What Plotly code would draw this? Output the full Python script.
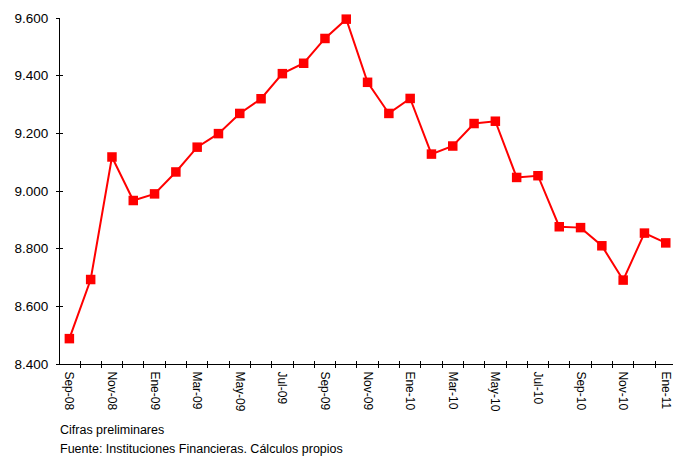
import plotly.graph_objects as go

months = ["Sep-08", "Oct-08", "Nov-08", "Dic-08", "Ene-09", "Feb-09", "Mar-09", "Abr-09",
          "May-09", "Jun-09", "Jul-09", "Ago-09", "Sep-09", "Oct-09", "Nov-09", "Dic-09",
          "Ene-10", "Feb-10", "Mar-10", "Abr-10", "May-10", "Jun-10", "Jul-10", "Ago-10",
          "Sep-10", "Oct-10", "Nov-10", "Dic-10", "Ene-11"]
values = [8488, 8693, 9118, 8967, 8990, 9066, 9152, 9199,
          9269, 9320, 9407, 9443, 9529, 9596, 9377, 9269,
          9321, 9128, 9156, 9234, 9242, 9047, 9053, 8876,
          8873, 8810, 8691, 8854, 8820]
tick_labels = ["Sep-08", "Nov-08", "Ene-09", "Mar-09", "May-09", "Jul-09", "Sep-09", "Nov-09",
               "Ene-10", "Mar-10", "May-10", "Jul-10", "Sep-10", "Nov-10", "Ene-11"]
y_ticks = [8400, 8600, 8800, 9000, 9200, 9400, 9600]
notes = ["Cifras preliminares", "Fuente: Instituciones Financieras. Cálculos propios"]

xs = list(range(len(months)))
label_pos = [months.index(m) for m in tick_labels]
xr = [-0.44, 28.34]
yr = [8400, 9600]
font = "Liberation Sans, Arial, sans-serif"

fig = go.Figure()
fig.add_trace(go.Scatter(
    x=xs, y=values, mode="lines+markers",
    line=dict(color="#FF0000", width=2),
    marker=dict(symbol="square", size=9.5, color="#FF0000"),
    cliponaxis=False, showlegend=False, hoverinfo="skip"))
# invisible trace to anchor secondary axes (used for crossing ticks)
fig.add_trace(go.Scatter(x=[xs[0]], y=[values[0]], xaxis="x2", yaxis="y2",
                         mode="markers", marker=dict(opacity=0), showlegend=False,
                         hoverinfo="skip"))

fig.update_layout(
    width=673, height=457,
    margin=dict(l=60, r=0, t=18, b=93, autoexpand=False),
    paper_bgcolor="white", plot_bgcolor="white",
    separators=",.",
    font=dict(family=font, size=13, color="black"),
    xaxis=dict(range=xr, tickmode="array", tickvals=label_pos, ticktext=tick_labels,
               tickangle=90, ticks="", showgrid=False, zeroline=False, automargin=False,
               showline=True, linecolor="black", linewidth=1, ticklabeloverflow="allow",
               tickfont=dict(size=12), ticklabelstandoff=4,
               minor=dict(tickmode="linear", tick0=-0.5, dtick=1, ticks="outside",
                          ticklen=3, tickcolor="black", tickwidth=1, showgrid=False)),
    yaxis=dict(range=yr, tickmode="array", tickvals=y_ticks, tickformat=",d",
               ticks="outside", ticklen=3, tickcolor="black", tickwidth=1, automargin=False,
               showgrid=False, zeroline=False, showline=True, linecolor="black",
               linewidth=1, tickfont=dict(size=13.5), ticklabelstandoff=5),
    xaxis2=dict(range=xr, overlaying="x", anchor="y2", showticklabels=False,
                tickmode="linear", tick0=-0.5, dtick=1, ticks="inside", ticklen=3,
                automargin=False,
                tickcolor="black", showgrid=False, zeroline=False, showline=False),
    yaxis2=dict(range=yr, overlaying="y", anchor="x2", showticklabels=False,
                tickmode="array", tickvals=y_ticks, ticks="inside", ticklen=3,
                automargin=False,
                tickcolor="black", showgrid=False, zeroline=False, showline=False),
)

for i, t in enumerate(notes):
    fig.add_annotation(text=t, xref="paper", yref="paper", x=0, xshift=-2,
                       y=0, yshift=-(430 - 364) - i * 19, xanchor="left", yanchor="middle",
                       showarrow=False, font=dict(family=font, size=12.5, color="black"))

fig.write_html("out.html", config={"displayModeBar": False},
               post_script="document.body.style.margin='0';document.body.style.overflow='hidden';")
